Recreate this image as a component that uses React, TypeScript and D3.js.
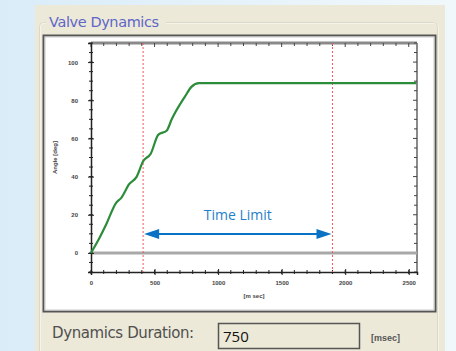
import React, { useEffect, useRef } from "react";
import * as d3 from "d3";

// valve angle over time
const timeMs = [0, 60, 120, 195, 240, 300, 360, 410, 470, 530, 595, 635, 740, 790, 850, 900, 2560];
const angleDeg = [0, 7, 15, 26, 29, 36, 40, 48, 52, 62, 64, 70, 82, 87, 89, 89, 89];

const xTicks = [0, 500, 1000, 1500, 2000, 2500];
const yTicks = [0, 20, 40, 60, 80, 100];
const limitLines = [410, 1900];

export default function App() {
  const svgRef = useRef<SVGSVGElement>(null);

  useEffect(() => {
    const svg = d3.select(svgRef.current);
    svg.selectAll("*").remove();

    const W = 456;
    const H = 351;
    const defs = svg.append("defs");
    const bg = defs.append("linearGradient").attr("id", "bg").attr("x1", 0).attr("x2", 1);
    bg.append("stop").attr("offset", 0).attr("stop-color", "#d9ecf8");
    bg.append("stop").attr("offset", 1).attr("stop-color", "#f1f8fc");
    svg.append("rect").attr("width", W).attr("height", H).attr("fill", "url(#bg)");

    // beige panel + group box
    svg.append("rect").attr("x", 35).attr("y", 5).attr("width", 410).attr("height", 346).attr("fill", "#ece9d8");
    svg.append("rect").attr("x", 40).attr("y", 23).attr("width", 398).attr("height", 340)
      .attr("rx", 4).attr("fill", "none").attr("stroke", "#f8f7f0").attr("stroke-width", 1.5);
    svg.append("rect").attr("x", 39.5).attr("y", 22.5).attr("width", 398).attr("height", 340)
      .attr("rx", 4).attr("fill", "none").attr("stroke", "#dcd8c6").attr("stroke-width", 1);
    svg.append("rect").attr("x", 46).attr("y", 14).attr("width", 120).attr("height", 16).attr("fill", "#ece9d8");
    svg.append("text").attr("x", 49).attr("y", 27).attr("font-family", "DejaVu Sans")
      .attr("font-size", 14.5).attr("letter-spacing", -0.4).attr("fill", "#5e66c8").text("Valve Dynamics");

    // white chart box
    svg.append("rect").attr("x", 43.5).attr("y", 35.5).attr("width", 392).attr("height", 276)
      .attr("fill", "#fff").attr("stroke", "#555").attr("stroke-width", 2);
    svg.append("rect").attr("x", 45).attr("y", 37).attr("width", 389).attr("height", 273)
      .attr("fill", "none").attr("stroke", "#c8c8c8").attr("stroke-width", 1);

    const x = d3.scaleLinear().domain([0, 2565]).range([91, 417]);
    const y = d3.scaleLinear().domain([-10, 110]).range([272, 43]);
    const [x0, x1] = x.range();
    const [yb, yt] = y.range();

    const g = svg.append("g");
    const minorX = d3.range(0, 2565, 100);
    const minorY = d3.range(-10, 111, 5);

    // top & right frame (gray)
    g.append("line").attr("x1", x0).attr("x2", x1).attr("y1", yt).attr("y2", yt)
      .attr("stroke", "#8a8a8a").attr("stroke-width", 3);
    g.append("line").attr("x1", x1).attr("x2", x1).attr("y1", yt).attr("y2", yb)
      .attr("stroke", "#8a8a8a").attr("stroke-width", 2);
    g.selectAll(".tt").data(minorX).join("line")
      .attr("x1", (d) => x(d)).attr("x2", (d) => x(d)).attr("y1", yt)
      .attr("y2", (d) => yt + (d % 500 === 0 ? 4 : 3)).attr("stroke", "#444").attr("stroke-width", 1);
    g.selectAll(".rt").data(minorY).join("line")
      .attr("y1", (d) => y(d)).attr("y2", (d) => y(d)).attr("x1", x1)
      .attr("x2", (d) => x1 - (d % 20 === 0 ? 4 : 3)).attr("stroke", "#444").attr("stroke-width", 1);

    // zero line
    g.append("line").attr("x1", x0).attr("x2", x1).attr("y1", y(0)).attr("y2", y(0))
      .attr("stroke", "#a8a8a8").attr("stroke-width", 3);

    // left & bottom axes
    const font = "Liberation Sans, Arial";
    const yAxis = g.append("g").attr("transform", `translate(${x0},0)`)
      .call(d3.axisLeft(y).tickValues(yTicks).tickFormat(d3.format("d")).tickSize(3).tickPadding(10));
    yAxis.select(".domain").attr("stroke", "#222").attr("stroke-width", 1.5);
    yAxis.selectAll(".tick line").attr("x2", -3).attr("x1", 3).attr("stroke", "#222");
    yAxis.selectAll(".tick text").attr("font-family", font).attr("font-size", 6).attr("font-weight", "bold").attr("fill", "#444");
    g.selectAll(".ly").data(minorY).join("line")
      .attr("y1", (d) => y(d)).attr("y2", (d) => y(d)).attr("x1", x0 - 2).attr("x2", x0 + 2)
      .attr("stroke", "#222").attr("stroke-width", 1);

    const xAxis = g.append("g").attr("transform", `translate(0,${yb})`)
      .call(d3.axisBottom(x).tickValues(xTicks).tickFormat(d3.format("d")).tickSize(3).tickPadding(6));
    xAxis.select(".domain").attr("stroke", "#222").attr("stroke-width", 1.5);
    xAxis.selectAll(".tick line").attr("y1", -3).attr("y2", 3).attr("stroke", "#222");
    xAxis.selectAll(".tick text").attr("font-family", font).attr("font-size", 6).attr("font-weight", "bold").attr("fill", "#444");
    g.selectAll(".bx").data(minorX).join("line")
      .attr("x1", (d) => x(d)).attr("x2", (d) => x(d)).attr("y1", yb - 2).attr("y2", yb + 2)
      .attr("stroke", "#222").attr("stroke-width", 1);

    g.append("text").attr("transform", `translate(57,${y(50)}) rotate(-90)`).attr("text-anchor", "middle")
      .attr("font-family", font).attr("font-size", 6).attr("font-weight", "bold").attr("fill", "#444").text("Angle [deg]");
    g.append("text").attr("x", (x0 + x1) / 2).attr("y", 298).attr("text-anchor", "middle")
      .attr("font-family", font).attr("font-size", 6).attr("font-weight", "bold").attr("fill", "#444").text("[m sec]");

    // time limit lines
    g.selectAll(".lim").data(limitLines).join("line")
      .attr("x1", (d) => x(d)).attr("x2", (d) => x(d)).attr("y1", yt).attr("y2", yb)
      .attr("stroke", "#f25a5a").attr("stroke-width", 1).attr("stroke-dasharray", "2,2");

    // curve
    const line = d3.line<number>().x((d) => x(d)).y((_, i) => y(angleDeg[i])).curve(d3.curveMonotoneX);
    g.append("path").attr("d", line(timeMs)).attr("fill", "none")
      .attr("stroke", "#2b8c3a").attr("stroke-width", 2.2);

    // Time Limit arrow
    const ay = 234;
    const ax0 = x(limitLines[0]) + 1;
    const ax1 = x(limitLines[1]) - 1;
    const blue = "#0a72c4";
    g.append("line").attr("x1", ax0 + 10).attr("x2", ax1 - 10).attr("y1", ay).attr("y2", ay)
      .attr("stroke", blue).attr("stroke-width", 2);
    g.append("path").attr("d", `M${ax0},${ay} L${ax0 + 15},${ay - 5} L${ax0 + 15},${ay + 5} Z`).attr("fill", blue);
    g.append("path").attr("d", `M${ax1},${ay} L${ax1 - 15},${ay - 5} L${ax1 - 15},${ay + 5} Z`).attr("fill", blue);
    g.append("text").attr("x", (ax0 + ax1) / 2).attr("y", 220).attr("text-anchor", "middle")
      .attr("font-family", "Open Sans, Noto Sans").attr("font-size", 14).attr("fill", "#1f7fc9").text("Time Limit");

    // duration field
    svg.append("text").attr("x", 52).attr("y", 338).attr("font-family", "DejaVu Sans")
      .attr("font-size", 15).attr("letter-spacing", -0.4).attr("fill", "#505050").text("Dynamics Duration:");
    svg.append("rect").attr("x", 218.5).attr("y", 323.5).attr("width", 141).attr("height", 25)
      .attr("fill", "#ece9d8").attr("stroke", "#555").attr("stroke-width", 1.5);
    svg.append("text").attr("x", 223).attr("y", 342).attr("font-family", "Open Sans, Noto Sans")
      .attr("font-size", 15).attr("fill", "#111").text("750");
    svg.append("text").attr("x", 371).attr("y", 341).attr("font-family", font)
      .attr("font-size", 9).attr("font-weight", "bold").attr("fill", "#555").text("[msec]");
  }, []);

  return (
    <div style={{ position: "absolute", left: 0, top: 0 }}>
      <svg ref={svgRef} width={456} height={351} style={{ display: "block" }}></svg>
    </div>
  );
}
